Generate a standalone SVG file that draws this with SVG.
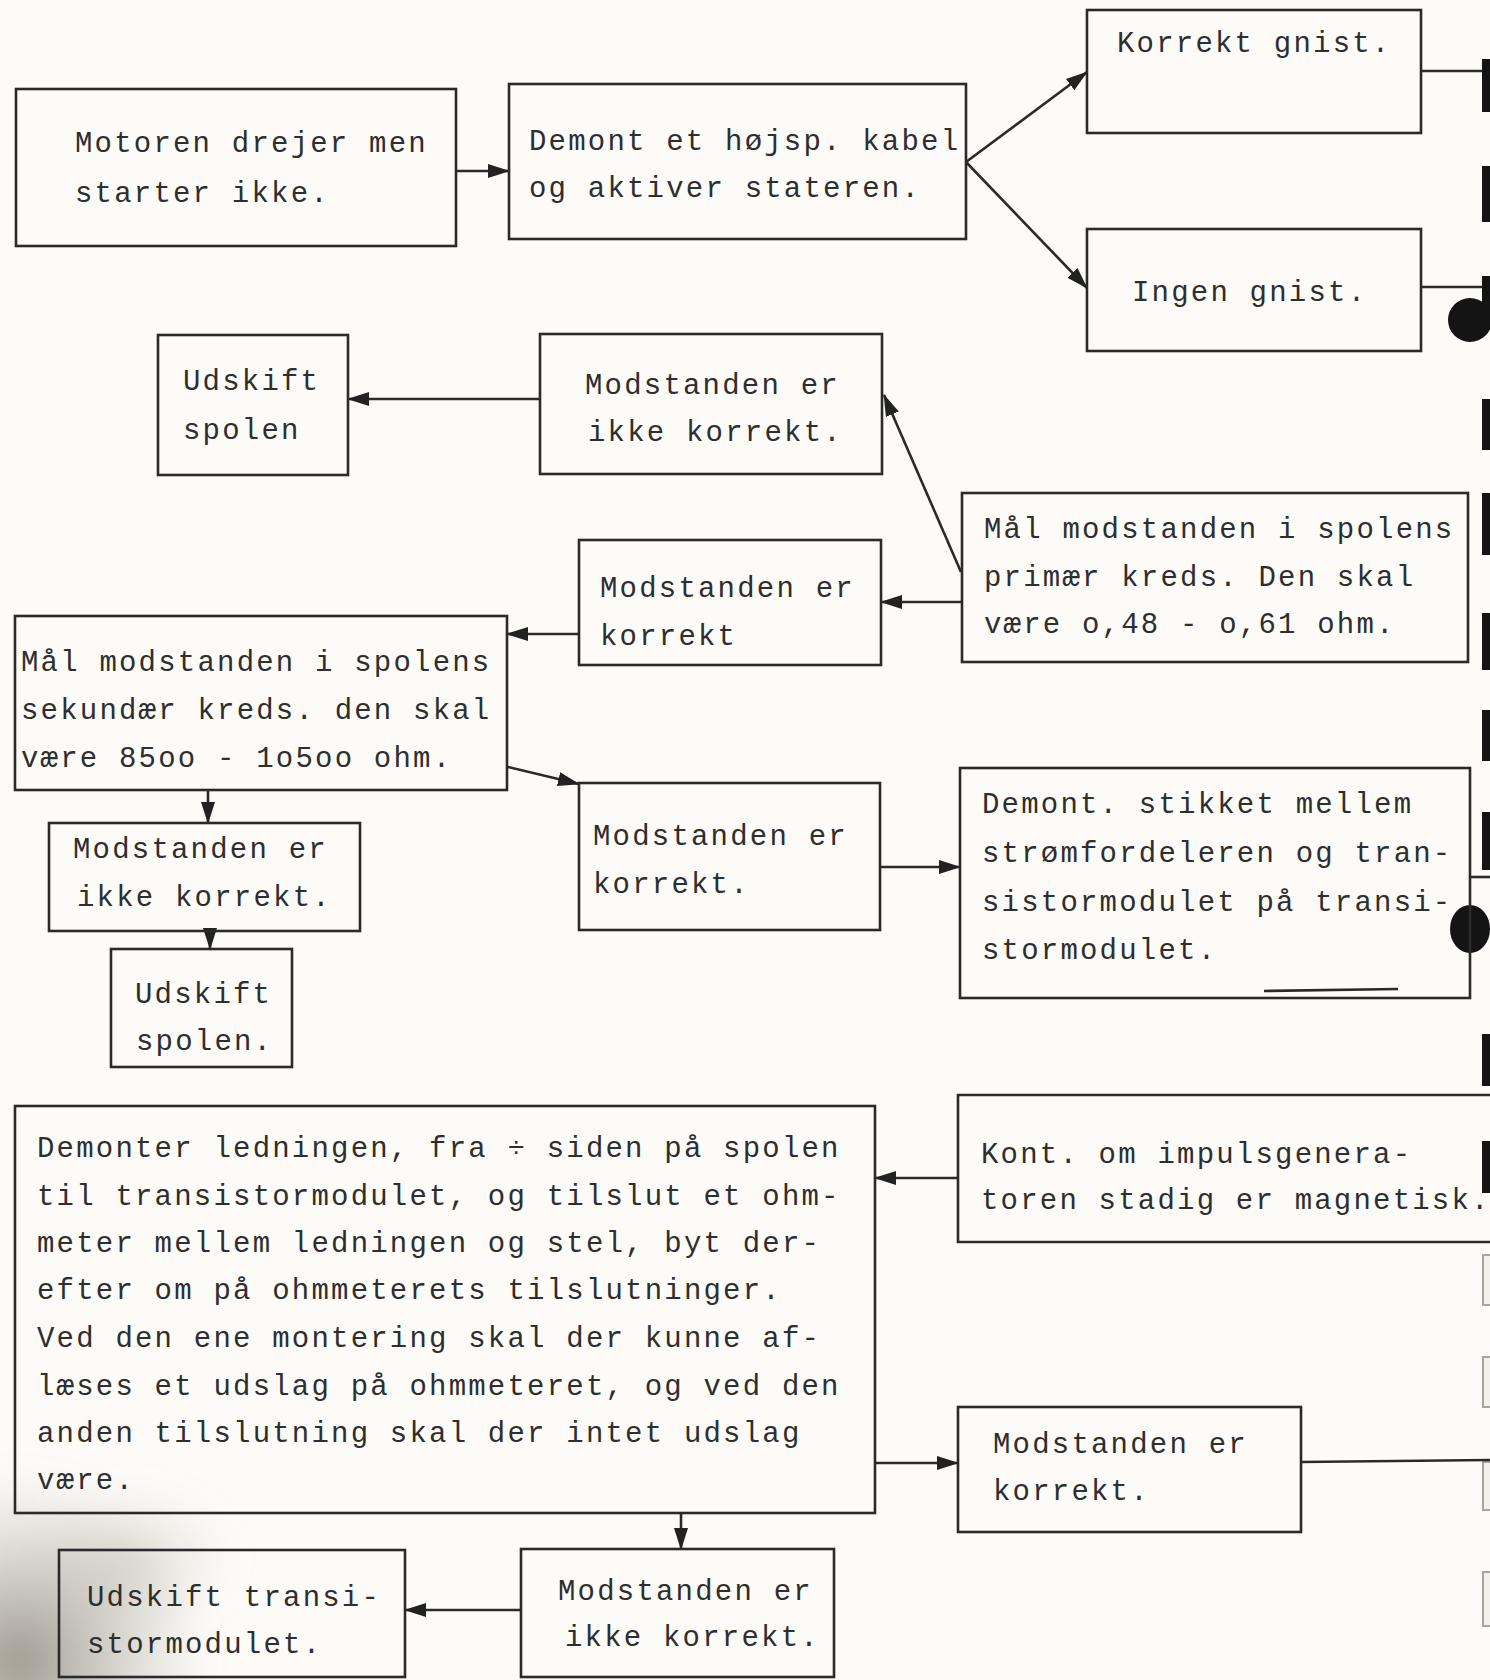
<svg xmlns="http://www.w3.org/2000/svg" width="1490" height="1680" viewBox="0 0 1490 1680">
  <style>
    .box { fill: none; stroke: #2a2a2a; stroke-width: 2.6; }
    .edge { fill: none; stroke: #2a2a2a; stroke-width: 2.6; }
    .t { font-family: "Liberation Mono", "DejaVu Sans Mono", monospace; font-size: 29px; letter-spacing: 2.2px; fill: #2e2e2e; }
    .hole { fill: #141414; }
    .hole-faint { fill: #f2f0ea; stroke: #a9a59c; stroke-width: 2; }
  </style>
  <defs>
    <marker id="arr" markerUnits="userSpaceOnUse" viewBox="0 0 22 16" refX="21" refY="8" markerWidth="22" markerHeight="16" orient="auto">
      <path d="M0,1 L22,8 L0,15 z" fill="#222"/>
    </marker>
    <radialGradient id="stain" cx="0.5" cy="0.5" r="0.5">
      <stop offset="0" stop-color="#7f786c" stop-opacity="0.75"/>
      <stop offset="0.55" stop-color="#9b958a" stop-opacity="0.35"/>
      <stop offset="1" stop-color="#b5b0a6" stop-opacity="0"/>
    </radialGradient>
    <radialGradient id="stain2" cx="0.5" cy="0.5" r="0.5">
      <stop offset="0" stop-color="#b3aa98" stop-opacity="0.35"/>
      <stop offset="1" stop-color="#c8c1b2" stop-opacity="0"/>
    </radialGradient>
    <filter id="soft" x="-30%" y="-30%" width="160%" height="160%">
      <feGaussianBlur stdDeviation="14"/>
    </filter>
  </defs>

  <!-- paper -->
  <rect x="0" y="0" width="1490" height="1680" fill="#fcfbf8"/>
  <ellipse cx="130" cy="1560" rx="110" ry="80" fill="url(#stain2)" filter="url(#soft)"/>
  <ellipse cx="20" cy="1660" rx="190" ry="190" fill="url(#stain)" filter="url(#soft)"/>

  <!-- punched binding holes along the right edge -->
  <g id="binding">
    <rect class="hole" x="1482" y="59" width="9" height="53"/>
    <rect class="hole" x="1482" y="166" width="9" height="56"/>
    <rect class="hole" x="1482" y="276" width="9" height="44"/>
    <ellipse class="hole" cx="1470" cy="320" rx="22" ry="22"/>
    <rect class="hole" x="1482" y="399" width="9" height="51"/>
    <rect class="hole" x="1482" y="493" width="9" height="62"/>
    <rect class="hole" x="1482" y="613" width="9" height="57"/>
    <rect class="hole" x="1482" y="710" width="9" height="51"/>
    <rect class="hole" x="1482" y="812" width="9" height="58"/>
    <ellipse class="hole" cx="1470" cy="929" rx="20" ry="24"/>
    <rect class="hole" x="1482" y="1034" width="9" height="52" fill="#3a3a3a"/>
    <rect class="hole" x="1482" y="1141" width="9" height="52" fill="#555"/>
    <rect class="hole-faint" x="1483" y="1255" width="9" height="50"/>
    <rect class="hole-faint" x="1483" y="1357" width="9" height="50"/>
    <rect class="hole-faint" x="1483" y="1462" width="9" height="48"/>
    <rect class="hole-faint" x="1483" y="1572" width="9" height="54"/>
  </g>

  <!-- connectors -->
  <g id="connectors">
    <line class="edge" x1="456" y1="171" x2="509" y2="171" marker-end="url(#arr)"/>
    <line class="edge" x1="966" y1="162" x2="1087" y2="72" marker-end="url(#arr)"/>
    <line class="edge" x1="966" y1="162" x2="1087" y2="288" marker-end="url(#arr)"/>
    <line class="edge" x1="1421" y1="71" x2="1482" y2="71"/>
    <line class="edge" x1="1421" y1="287" x2="1482" y2="287"/>
    <line class="edge" x1="540" y1="399" x2="348" y2="399" marker-end="url(#arr)"/>
    <line class="edge" x1="961" y1="572" x2="884" y2="395" marker-end="url(#arr)"/>
    <line class="edge" x1="962" y1="602" x2="881" y2="602" marker-end="url(#arr)"/>
    <line class="edge" x1="579" y1="634" x2="507" y2="634" marker-end="url(#arr)"/>
    <line class="edge" x1="208" y1="790" x2="208" y2="823" marker-end="url(#arr)"/>
    <line class="edge" x1="210" y1="931" x2="210" y2="949" marker-end="url(#arr)"/>
    <line class="edge" x1="508" y1="767" x2="579" y2="784" marker-end="url(#arr)"/>
    <line class="edge" x1="880" y1="867" x2="960" y2="867" marker-end="url(#arr)"/>
    <line class="edge" x1="1470" y1="877" x2="1490" y2="877"/>
    <line class="edge" x1="958" y1="1178" x2="875" y2="1178" marker-end="url(#arr)"/>
    <line class="edge" x1="875" y1="1463" x2="958" y2="1463" marker-end="url(#arr)"/>
    <line class="edge" x1="1301" y1="1462" x2="1490" y2="1460"/>
    <line class="edge" x1="681" y1="1513" x2="681" y2="1549" marker-end="url(#arr)"/>
    <line class="edge" x1="521" y1="1610" x2="405" y2="1610" marker-end="url(#arr)"/>
  </g>

  <!-- nodes -->
  <g id="start">
    <rect class="box" x="16" y="89" width="440" height="157"/>
    <text class="t" x="75" y="152">Motoren drejer men</text>
    <text class="t" x="75" y="202">starter ikke.</text>
  </g>
  <g id="remove-cable">
    <rect class="box" x="509" y="84" width="457" height="155"/>
    <text class="t" x="529" y="150">Demont et højsp. kabel</text>
    <text class="t" x="529" y="197">og aktiver stateren.</text>
  </g>
  <g id="spark-ok">
    <rect class="box" x="1087" y="10" width="334" height="123"/>
    <text class="t" x="1117" y="52">Korrekt gnist.</text>
  </g>
  <g id="no-spark">
    <rect class="box" x="1087" y="229" width="334" height="122"/>
    <text class="t" x="1132" y="301">Ingen gnist.</text>
  </g>
  <g id="replace-coil-1">
    <rect class="box" x="158" y="335" width="190" height="140"/>
    <text class="t" x="183" y="390">Udskift</text>
    <text class="t" x="183" y="439">spolen</text>
  </g>
  <g id="primary-bad">
    <rect class="box" x="540" y="334" width="342" height="140"/>
    <text class="t" x="585" y="394">Modstanden er</text>
    <text class="t" x="588" y="441">ikke korrekt.</text>
  </g>
  <g id="measure-primary">
    <rect class="box" x="962" y="493" width="506" height="169"/>
    <text class="t" x="984" y="538">Mål modstanden i spolens</text>
    <text class="t" x="984" y="586">primær kreds. Den skal</text>
    <text class="t" x="984" y="633">være o,48 - o,61 ohm.</text>
  </g>
  <g id="primary-ok">
    <rect class="box" x="579" y="540" width="302" height="125"/>
    <text class="t" x="600" y="597">Modstanden er</text>
    <text class="t" x="600" y="645">korrekt</text>
  </g>
  <g id="measure-secondary">
    <rect class="box" x="15" y="616" width="492" height="174"/>
    <text class="t" x="21" y="671">Mål modstanden i spolens</text>
    <text class="t" x="21" y="719">sekundær kreds. den skal</text>
    <text class="t" x="21" y="767">være 85oo - 1o5oo ohm.</text>
  </g>
  <g id="secondary-bad">
    <rect class="box" x="49" y="823" width="311" height="108"/>
    <text class="t" x="73" y="858">Modstanden er</text>
    <text class="t" x="77" y="906">ikke korrekt.</text>
  </g>
  <g id="replace-coil-2">
    <rect class="box" x="111" y="949" width="181" height="118"/>
    <text class="t" x="135" y="1003">Udskift</text>
    <text class="t" x="136" y="1050">spolen.</text>
  </g>
  <g id="secondary-ok">
    <rect class="box" x="579" y="783" width="301" height="147"/>
    <text class="t" x="593" y="845">Modstanden er</text>
    <text class="t" x="593" y="893">korrekt.</text>
  </g>
  <g id="unplug-distributor">
    <rect class="box" x="960" y="768" width="510" height="230"/>
    <line class="edge" x1="1264" y1="991" x2="1398" y2="989" stroke-width="2"/>
    <text class="t" x="982" y="813">Demont. stikket mellem</text>
    <text class="t" x="982" y="862">strømfordeleren og tran-</text>
    <text class="t" x="982" y="911">sistormodulet på transi-</text>
    <text class="t" x="982" y="959">stormodulet.</text>
  </g>
  <g id="check-generator">
    <path class="box" d="M1494,1095 L958,1095 L958,1242 L1494,1242"/>
    <text class="t" x="981" y="1163">Kont. om impulsgenera-</text>
    <text class="t" x="981" y="1209">toren stadig er magnetisk.</text>
  </g>
  <g id="wire-test">
    <rect class="box" x="15" y="1106" width="860" height="407"/>
    <text class="t" x="37" y="1157">Demonter ledningen, fra ÷ siden på spolen</text>
    <text class="t" x="37" y="1205">til transistormodulet, og tilslut et ohm-</text>
    <text class="t" x="37" y="1252">meter mellem ledningen og stel, byt der-</text>
    <text class="t" x="37" y="1299">efter om på ohmmeterets tilslutninger.</text>
    <text class="t" x="37" y="1347">Ved den ene montering skal der kunne af-</text>
    <text class="t" x="37" y="1395">læses et udslag på ohmmeteret, og ved den</text>
    <text class="t" x="37" y="1442">anden tilslutning skal der intet udslag</text>
    <text class="t" x="37" y="1489">være.</text>
  </g>
  <g id="wire-ok">
    <rect class="box" x="958" y="1407" width="343" height="125"/>
    <text class="t" x="993" y="1453">Modstanden er</text>
    <text class="t" x="993" y="1500">korrekt.</text>
  </g>
  <g id="wire-bad">
    <rect class="box" x="521" y="1549" width="313" height="128"/>
    <text class="t" x="558" y="1600">Modstanden er</text>
    <text class="t" x="565" y="1646">ikke korrekt.</text>
  </g>
  <g id="replace-module">
    <rect class="box" x="59" y="1550" width="346" height="127"/>
    <text class="t" x="87" y="1606">Udskift transi-</text>
    <text class="t" x="87" y="1653">stormodulet.</text>
  </g>
</svg>
